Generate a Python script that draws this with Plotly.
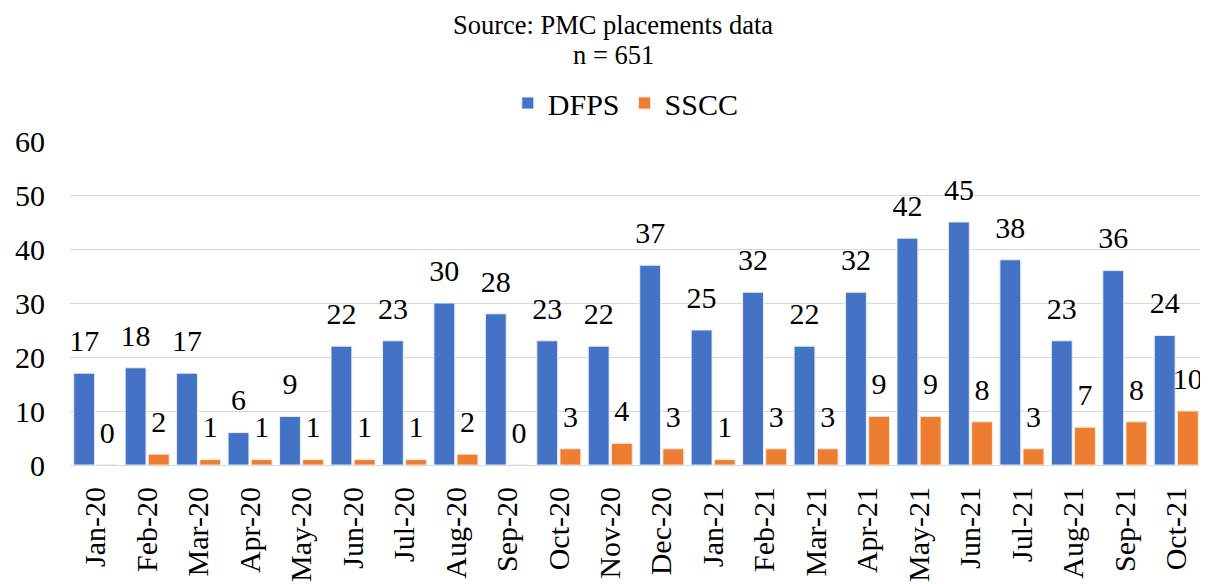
import plotly.graph_objects as go

months = ["Jan-20", "Feb-20", "Mar-20", "Apr-20", "May-20", "Jun-20", "Jul-20", "Aug-20",
          "Sep-20", "Oct-20", "Nov-20", "Dec-20", "Jan-21", "Feb-21", "Mar-21", "Apr-21",
          "May-21", "Jun-21", "Jul-21", "Aug-21", "Sep-21", "Oct-21"]
dfps = [17, 18, 17, 6, 9, 22, 23, 30, 28, 23, 22, 37, 25, 32, 22, 32, 42, 45, 38, 23, 36, 24]
sscc = [0, 2, 1, 1, 1, 1, 1, 2, 0, 3, 4, 3, 1, 3, 3, 9, 9, 8, 3, 7, 8, 10]
y_ticks = [0, 10, 20, 30, 40, 50, 60]

FONT = "Liberation Serif"
W, H = 1208, 584
ML, MR, MT, MB = 62, 14, 133, 127
PH = H - MT - MB
PW = W - ML - MR

series = [("DFPS", dfps, "#4472C4", "#E8EEF8"), ("SSCC", sscc, "#ED7D31", "#FBE5D6")]

fig = go.Figure()
for name, vals, color, edge in series:
    fig.add_trace(go.Bar(x=months, y=vals, name=name, offsetgroup=name, legendgroup=name,
                         marker=dict(color=color, line=dict(color=edge, width=1))))
for name, vals, color, edge in series:
    fig.add_trace(go.Scatter(x=months, y=vals, name=name, offsetgroup=name, legendgroup=name,
                             showlegend=False, mode="markers+text", text=vals,
                             textposition="top center", cliponaxis=False, hoverinfo="skip",
                             marker=dict(size=22, color="rgba(0,0,0,0)"),
                             textfont=dict(family=FONT, size=30, color="black")))

fig.update_layout(
    width=W, height=H,
    margin=dict(l=ML, r=MR, t=MT, b=MB, autoexpand=False),
    paper_bgcolor="white", plot_bgcolor="white",
    font=dict(family=FONT, color="black"),
    barmode="group", bargap=0.1, bargroupgap=0.1,
    scattermode="group", scattergap=0.1,
    title=dict(text="Source: PMC placements data", xref="container", x=605 / W, xanchor="center",
               yref="container", y=1 - 17 / H, yanchor="middle",
               font=dict(family=FONT, size=26.5, color="black")),
    annotations=[dict(text="n = 651", xref="paper", yref="paper",
                      x=(605 - ML) / PW, y=(H - MB - 47) / PH, xanchor="center", yanchor="middle",
                      showarrow=False, font=dict(family=FONT, size=26.5, color="black"))],
    legend=dict(orientation="h", x=0.491, xanchor="center", y=(H - MB - 95) / PH, yanchor="middle",
                font=dict(family=FONT, size=30, color="black"),
                traceorder="normal"),
)
fig.update_xaxes(tickangle=-90, tickfont=dict(family=FONT, size=30, color="black"), automargin=False,
                 showline=True, linecolor="#D9D9D9", linewidth=1, ticks="", showgrid=False,
                 ticklabelstandoff=9)
fig.update_yaxes(range=[0, 60], tickvals=y_ticks, tickfont=dict(family=FONT, size=30, color="black"),
                 showgrid=True, gridcolor="#D9D9D9", gridwidth=1, zeroline=False, ticks="",
                 automargin=False, ticklabelstandoff=24)

fig.write_html("out.html")
